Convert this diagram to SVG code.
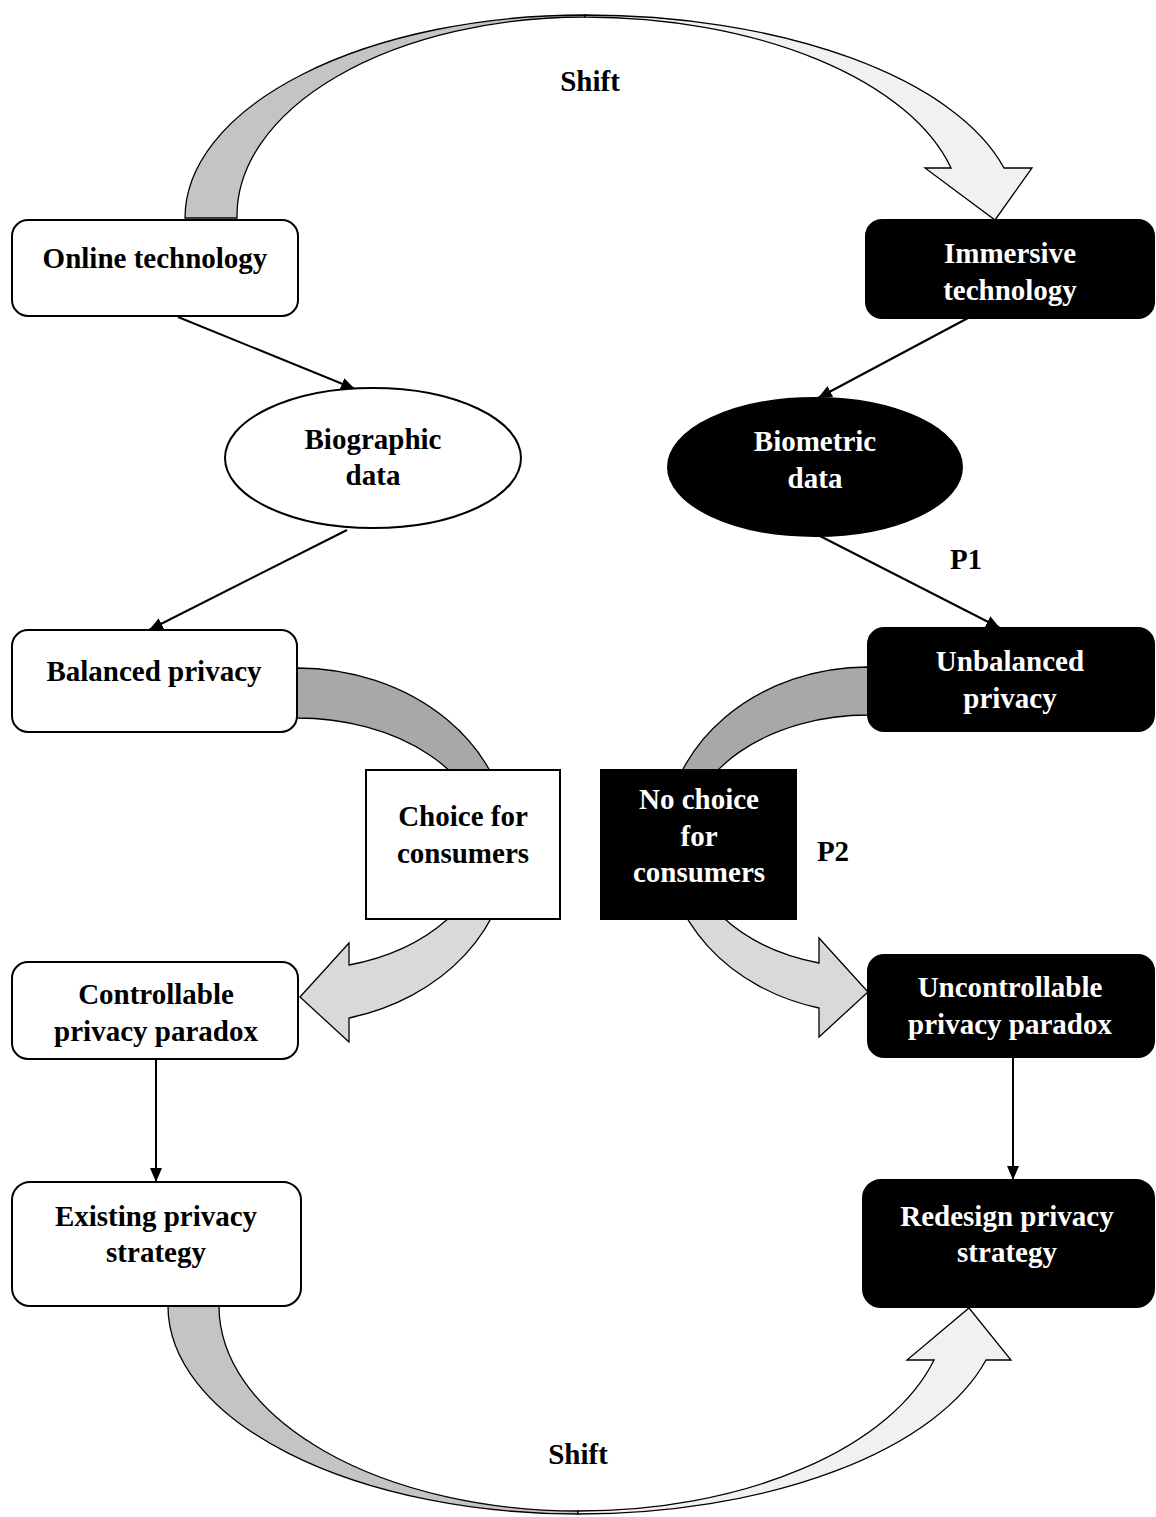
<svg xmlns="http://www.w3.org/2000/svg" width="1156" height="1517" viewBox="0 0 1156 1517">
<style>
text{font-family:"Liberation Serif","Times New Roman",serif;font-weight:bold;font-size:29px;text-anchor:middle}
.w{fill:#fff;stroke:#000;stroke-width:2}
.b{fill:#000;stroke:#000;stroke-width:2}
.wt{fill:#000}
.bt{fill:#fff}
.ln{stroke:#000;stroke-width:2;fill:none;marker-end:url(#ah)}
.blk{stroke:#000;stroke-width:1.3;stroke-linejoin:miter}
.g1{fill:#c4c4c4}
.g2{fill:#f1f1f1}
.g3{fill:#a8a8a8}
.g4{fill:#d9d9d9}
</style>
<defs>
<marker id="ah" viewBox="0 0 14 12" refX="14" refY="6" markerWidth="14" markerHeight="12" markerUnits="userSpaceOnUse" orient="auto">
<path d="M0,0 L14,6 L0,12 Z" fill="#000"/>
</marker>
</defs>
<g id="connectors">
<path class="blk g1" d="M185 218 A400 203 0 0 1 585 15 L585 17 A348 199 0 0 0 237 218 Z"/>
<path class="blk g2" d="M585 15 A432 203 0 0 1 1004 168 L1032 168 L995 220 L925 168 L951 168 A378 199 0 0 0 585 17 Z"/>
<path class="blk g1" d="M168 1306 A410 208 0 0 0 578 1514 L578 1511 A359 205 0 0 1 219 1306 Z"/>
<path class="blk g2" d="M578 1514 A422 208 0 0 0 986 1360 L1011 1360 L969 1308 L907 1360 L934 1360 A369 205 0 0 1 578 1511 Z"/>
<path class="blk g3" d="M297 668 A212.5 177 0 0 1 509.5 845 L485 845 A188 127 0 0 0 297 718 Z"/>
<path class="blk g4" d="M509.5 845 A212.5 177 0 0 1 349 1018 L349 1042 L300 997 L349 943 L349 965 A188 127 0 0 0 485 845 Z"/>
<path class="blk g3" d="M868 667 A202.8 173 0 0 0 665.2 840 L687 840 A181 125 0 0 1 868 715 Z"/>
<path class="blk g4" d="M665.2 840 A202.8 173 0 0 0 819 1008 L819 1037 L868 992 L819 938 L819 963 A181 125 0 0 1 687 840 Z"/>
<line class="ln" x1="178" y1="317" x2="355" y2="389"/>
<line class="ln" x1="347" y1="530" x2="149" y2="630"/>
<line class="ln" x1="968" y1="318" x2="818" y2="398"/>
<line class="ln" x1="818" y1="535" x2="1000" y2="628"/>
<line class="ln" x1="156" y1="1060" x2="156" y2="1182"/>
<line class="ln" x1="1013" y1="1057" x2="1013" y2="1180"/>
<text class="wt" x="590" y="91">Shift</text>
<text class="wt" x="578" y="1464">Shift</text>
<text class="wt" x="966" y="569">P1</text>
<text class="wt" x="833" y="861">P2</text>
</g>
<g id="online">
<rect class="w" x="12" y="220" width="286" height="96" rx="16"/>
<text class="wt" x="155" y="268">Online technology</text>
</g>
<g id="immersive">
<rect class="b" x="866" y="220" width="288" height="98" rx="16"/>
<text class="bt" x="1010" y="263">Immersive</text>
<text class="bt" x="1010" y="300">technology</text>
</g>
<g id="biographic">
<ellipse class="w" cx="373" cy="458" rx="148" ry="70"/>
<text class="wt" x="373" y="449">Biographic</text>
<text class="wt" x="373" y="485">data</text>
</g>
<g id="biometric">
<ellipse class="b" cx="815" cy="467" rx="147" ry="69"/>
<text class="bt" x="815" y="451">Biometric</text>
<text class="bt" x="815" y="488">data</text>
</g>
<g id="balanced">
<rect class="w" x="12" y="630" width="285" height="102" rx="16"/>
<text class="wt" x="154" y="681">Balanced privacy</text>
</g>
<g id="unbalanced">
<rect class="b" x="868" y="628" width="286" height="103" rx="16"/>
<text class="bt" x="1010" y="671">Unbalanced</text>
<text class="bt" x="1010" y="708">privacy</text>
</g>
<g id="choice">
<rect class="w" x="366" y="770" width="194" height="149"/>
<text class="wt" x="463" y="826">Choice for</text>
<text class="wt" x="463" y="863">consumers</text>
</g>
<g id="nochoice">
<rect class="b" x="601" y="770" width="195" height="149"/>
<text class="bt" x="699" y="809">No choice</text>
<text class="bt" x="699" y="846">for</text>
<text class="bt" x="699" y="882">consumers</text>
</g>
<g id="controllable">
<rect class="w" x="12" y="962" width="286" height="97" rx="16"/>
<text class="wt" x="156" y="1004">Controllable</text>
<text class="wt" x="156" y="1041">privacy paradox</text>
</g>
<g id="uncontrollable">
<rect class="b" x="868" y="955" width="286" height="102" rx="16"/>
<text class="bt" x="1010" y="997">Uncontrollable</text>
<text class="bt" x="1010" y="1034">privacy paradox</text>
</g>
<g id="existing">
<rect class="w" x="12" y="1182" width="289" height="124" rx="18"/>
<text class="wt" x="156" y="1226">Existing privacy</text>
<text class="wt" x="156" y="1262">strategy</text>
</g>
<g id="redesign">
<rect class="b" x="863" y="1180" width="291" height="127" rx="18"/>
<text class="bt" x="1007" y="1226">Redesign privacy</text>
<text class="bt" x="1007" y="1262">strategy</text>
</g>
</svg>
